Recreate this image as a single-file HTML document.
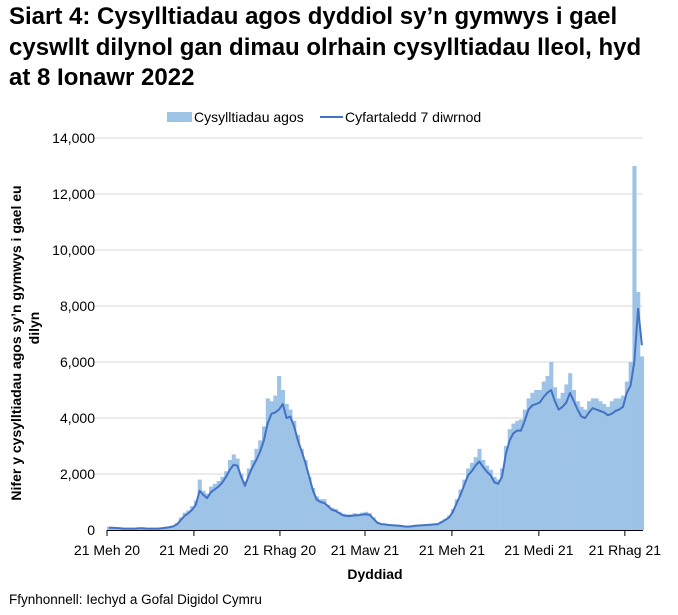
<!DOCTYPE html>
<html><head><meta charset="utf-8">
<style>
body{margin:0;background:#fff;font-family:"Liberation Sans",Arial,sans-serif;}
#wrap{position:relative;width:678px;height:615px;overflow:hidden;}
.t{position:absolute;left:9px;top:2px;font-size:24px;font-weight:bold;line-height:30.5px;color:#000;white-space:nowrap;}
</style></head><body>
<div id="wrap">
<div class="t">Siart 4: Cysylltiadau agos dyddiol sy’n gymwys i gael<br>cyswllt dilynol gan dimau olrhain cysylltiadau lleol, hyd<br>at 8 Ionawr 2022</div>
<svg id="svg" width="678" height="615" style="position:absolute;left:0;top:0"></svg>
</div>
<script>
const stepDays = 4;
const barValues = [120,100,90,80,60,70,60,50,80,70,60,60,70,60,80,110,120,160,250,450,620,700,850,1050,1800,1400,1300,1550,1650,1750,1900,2100,2500,2700,2550,2000,1750,2200,2500,2900,3200,3700,4700,4600,4800,5500,5000,4500,4300,3900,3400,2900,2500,1900,1500,1200,1100,1100,900,800,750,650,580,560,560,600,580,620,650,600,450,300,230,220,200,190,180,170,150,140,150,170,180,190,200,210,220,240,320,400,520,750,1100,1450,1800,2200,2400,2600,2900,2500,2300,2150,1900,1800,2200,3000,3600,3800,3900,3950,4300,4700,4900,5000,5000,5300,5500,6000,5100,4700,4900,5200,5600,5000,4600,4400,4300,4600,4700,4700,4600,4500,4400,4600,4700,4700,4800,5300,6000,13000,8500,6200];
const avgValues = [80,80,70,60,50,50,50,50,60,60,50,50,50,50,60,80,100,130,200,350,500,600,720,900,1400,1250,1140,1350,1450,1550,1700,1900,2150,2330,2300,1900,1580,1950,2250,2500,2800,3200,3800,4150,4200,4300,4500,4000,4050,3700,3200,2800,2400,1900,1400,1080,1000,960,850,720,680,600,520,500,500,520,530,550,560,540,400,260,210,200,180,170,160,150,130,120,130,150,160,170,180,190,200,210,280,360,450,650,950,1250,1600,1950,2100,2300,2450,2250,2080,1950,1700,1650,1900,2700,3200,3450,3550,3550,3900,4300,4450,4500,4550,4750,4900,5000,4600,4300,4400,4550,4900,4600,4300,4050,4000,4200,4350,4300,4250,4200,4100,4150,4250,4300,4400,4900,5150,6000,7900,6600];
const yTicks = [0,2000,4000,6000,8000,10000,12000,14000];
const yTickLabels = ["0","2,000","4,000","6,000","8,000","10,000","12,000","14,000"];
const xTickDays = [0,92,183,273,365,457,548];
const xTickLabels = ["21 Meh 20","21 Medi 20","21 Rhag 20","21 Maw 21","21 Meh 21","21 Medi 21","21 Rhag 21"];

const NS="http://www.w3.org/2000/svg";
const svg=document.getElementById('svg');
const x0=107, pxDay=0.945, yBase=530, yTop=138, yMax=14000;
const xs=d=>x0+d*pxDay;
const ys=v=>yBase-(v/yMax)*(yBase-yTop);
function mk(tag,attrs,parent){const e=document.createElementNS(NS,tag);for(const k in attrs)e.setAttribute(k,attrs[k]);(parent||svg).appendChild(e);return e;}

yTicks.forEach((v,i)=>{
  if(v>0){const g=mk('line',{x1:93,x2:643,y1:ys(v),y2:ys(v),stroke:'#d9d9d9','stroke-width':1});
  
  }
  const t=mk('text',{x:95,y:ys(v)+5,'text-anchor':'end','font-size':14,fill:'#000'});
  t.textContent=yTickLabels[i];
  
  
});
barValues.forEach((v,i)=>{
  const d=i*stepDays;
  const r=mk('rect',{x:xs(d),y:ys(v),width:stepDays*pxDay+0.3,height:yBase-ys(v),fill:'#9dc3e6'});
  
  
});
const pts=avgValues.map((v,i)=>xs(i*stepDays+stepDays/2).toFixed(1)+','+ys(v).toFixed(1)).join(' ');
const pl=mk('polyline',{points:pts,fill:'none',stroke:'#4472c4','stroke-width':2,'stroke-linejoin':'round'});


const ax=mk('line',{x1:107,x2:643,y1:530.5,y2:530.5,stroke:'#000','stroke-width':1});


xTickDays.forEach((d,i)=>{
  const tk=mk('line',{x1:xs(d),x2:xs(d),y1:530,y2:536,stroke:'#000','stroke-width':1});
  
  
  const t=mk('text',{x:xs(d),y:555,'text-anchor':'middle','font-size':14,fill:'#000'});
  t.textContent=xTickLabels[i];
  
  
});
const ls=mk('rect',{x:167,y:112,width:25,height:10,fill:'#9dc3e6'});


const lt1=mk('text',{x:194,y:122,'font-size':14,fill:'#000'});lt1.textContent='Cysylltiadau agos';


const ll=mk('line',{x1:320,x2:343,y1:117,y2:117,stroke:'#4472c4','stroke-width':2});


const lt2=mk('text',{x:345,y:122,'font-size':14,fill:'#000'});lt2.textContent='Cyfartaledd 7 diwrnod';


const yt=mk('text',{transform:'translate(21,343) rotate(-90)','text-anchor':'middle','font-size':14,'font-weight':'bold',fill:'#000'});
yt.textContent='Nifer y cysylltiadau agos sy’n gymwys i gael eu';


const yt2=mk('text',{transform:'translate(39,328) rotate(-90)','text-anchor':'middle','font-size':14,'font-weight':'bold',fill:'#000'});
yt2.textContent='dilyn';


const xt=mk('text',{x:375,y:579,'text-anchor':'middle','font-size':14,'font-weight':'bold',fill:'#000'});
xt.textContent='Dyddiad';


const src=mk('text',{x:9,y:604,'font-size':13.5,fill:'#000'});
src.textContent='Ffynhonnell: Iechyd a Gofal Digidol Cymru';


</script>
</body></html>
